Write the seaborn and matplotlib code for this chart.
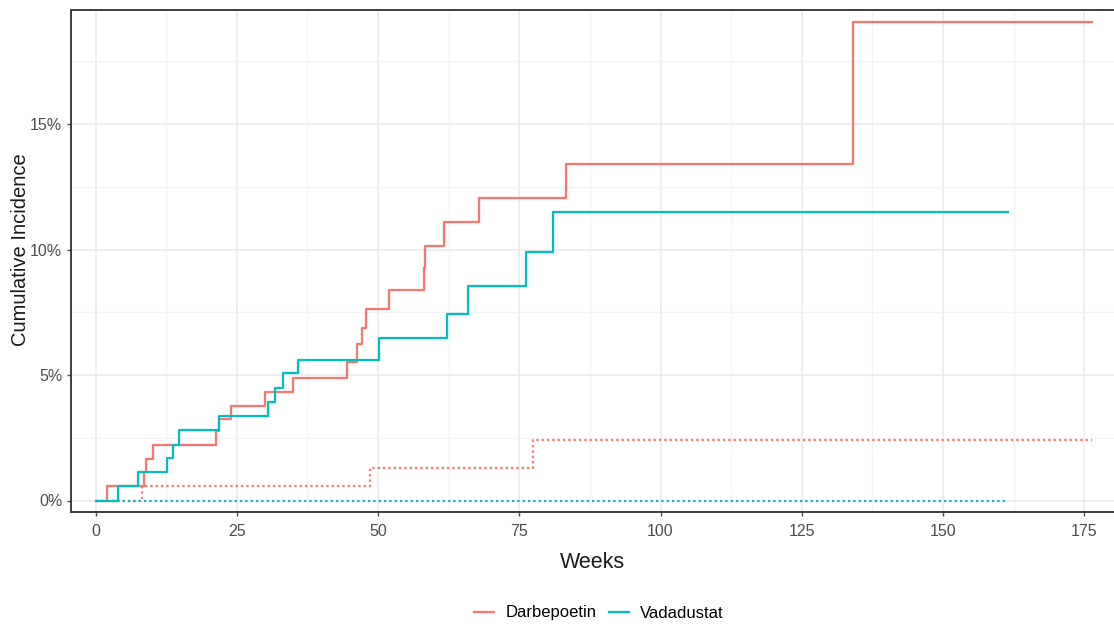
import matplotlib
matplotlib.use("Agg")
import matplotlib.pyplot as plt
from matplotlib.lines import Line2D
from matplotlib.ticker import MultipleLocator
import pandas as pd
import seaborn as sns

# Cumulative incidence step curves (weeks, percent)
arms = ["Darbepoetin", "Vadadustat"]
darbe_weeks = [0, 2.1, 8.6, 8.9, 10.1, 21.3, 21.9, 23.9, 30.0, 34.9, 44.5, 46.3,
               47.1, 47.9, 52.0, 58.1, 58.3, 61.7, 67.8, 83.3, 134.0, 176.4]
darbe_inc = [0, 0.56, 1.12, 1.66, 2.20, 2.78, 3.26, 3.77, 4.34, 4.87, 5.51, 6.24,
             6.88, 7.61, 8.40, 9.27, 10.14, 11.11, 12.06, 13.42, 19.06, 19.06]
vada_weeks = [0, 3.9, 7.6, 12.6, 13.7, 14.7, 21.8, 30.6, 31.8, 33.2, 35.9, 50.2,
              62.2, 65.9, 76.2, 81.0, 161.5]
vada_inc = [0, 0.56, 1.13, 1.68, 2.23, 2.80, 3.36, 3.94, 4.47, 5.07, 5.58, 6.48,
            7.43, 8.55, 9.91, 11.51, 11.51]

# Competing-risk curves (dotted)
darbe_comp_weeks = [0, 8.3, 48.6, 77.4, 176.4]
darbe_comp_inc = [0, 0.58, 1.28, 2.41, 2.41]
vada_comp_weeks = [0, 161.5]
vada_comp_inc = [0, 0]

x_ticks = [0, 25, 50, 75, 100, 125, 150, 175]
y_ticks = [0, 5, 10, 15]
y_tick_labels = ["0%", "5%", "10%", "15%"]

palette = {"Darbepoetin": "#F8766D", "Vadadustat": "#00BFC4"}

frames = []
for arm, wk, inc, outcome in [
    ("Darbepoetin", darbe_comp_weeks, darbe_comp_inc, "Competing"),
    ("Vadadustat", vada_comp_weeks, vada_comp_inc, "Competing"),
    ("Darbepoetin", darbe_weeks, darbe_inc, "Event"),
    ("Vadadustat", vada_weeks, vada_inc, "Event"),
]:
    frames.append(pd.DataFrame({"week": wk, "inc": inc, "arm": arm, "outcome": outcome}))
df = pd.concat(frames, ignore_index=True)
df["curve"] = df["arm"] + "/" + df["outcome"]

plt.rcParams["font.family"] = ["Liberation Sans", "DejaVu Sans"]

fig = plt.figure(figsize=(11.14, 6.26), dpi=100)
W, H = 1114, 626
ax = fig.add_axes([70.7 / W, (H - 511.7) / H, (W - 70.7) / W, (511.7 - 10) / H])

for curve, sub in df.groupby("curve", sort=False):
    arm, outcome = curve.split("/")
    sns.lineplot(data=sub, x="week", y="inc", ax=ax, color=palette[arm],
                 estimator=None, sort=False, drawstyle="steps-post",
                 linewidth=1.6, legend=False,
                 linestyle="-" if outcome == "Event" else (0, (1, 1.4)),
                 zorder=3 if outcome == "Event" else 2)

# Axes scale: 0 week at px 95.5, 5.65 px/week; 0% at px 500.5, 25.1 px/%
ax.set_xlim((70.7 - 95.5) / 5.65, (1114 - 95.5) / 5.65)
ax.set_ylim((500.5 - 511.7) / 25.1, (500.5 - 10) / 25.1)

ax.set_xticks(x_ticks)
ax.set_yticks(y_ticks)
ax.set_yticklabels(y_tick_labels)
ax.xaxis.set_minor_locator(MultipleLocator(12.5))
ax.yaxis.set_minor_locator(MultipleLocator(2.5))

ax.set_facecolor("white")
ax.grid(which="major", color="#EBEBEB", linewidth=1.2, zorder=0)
ax.grid(which="minor", color="#F2F2F2", linewidth=0.9, zorder=0)
ax.set_axisbelow(True)

for side in ["left", "top", "bottom"]:
    ax.spines[side].set_color("#3d3d3d")
    ax.spines[side].set_linewidth(1.4)
ax.spines["right"].set_visible(False)

ax.tick_params(axis="both", which="major", length=3, width=1.0, color="#4d4d4d",
               labelcolor="#4d4d4d", labelsize=11.5)
ax.tick_params(axis="x", pad=6)
ax.tick_params(axis="y", pad=3)
ax.tick_params(which="minor", length=0)

ax.set_xlabel("")
ax.set_ylabel("")
fig.text(592 / W, 1 - 562 / H, "Weeks", ha="center", va="center",
         fontsize=15.5, color="#1a1a1a")
fig.text(21 / W, 1 - 250 / H, "Cumulative Incidence", ha="center", va="center",
         rotation=90, fontsize=14.5, color="#1a1a1a")

handles = [Line2D([], [], color=palette[a], linewidth=1.6) for a in arms]
fig.legend(handles, arms, loc="center", bbox_to_anchor=(599 / W, 1 - 613 / H),
           ncol=2, frameon=False, fontsize=12, handlelength=1.2,
           handletextpad=0.7, columnspacing=0.7, borderpad=0)

fig.savefig("out.png", dpi=100)
